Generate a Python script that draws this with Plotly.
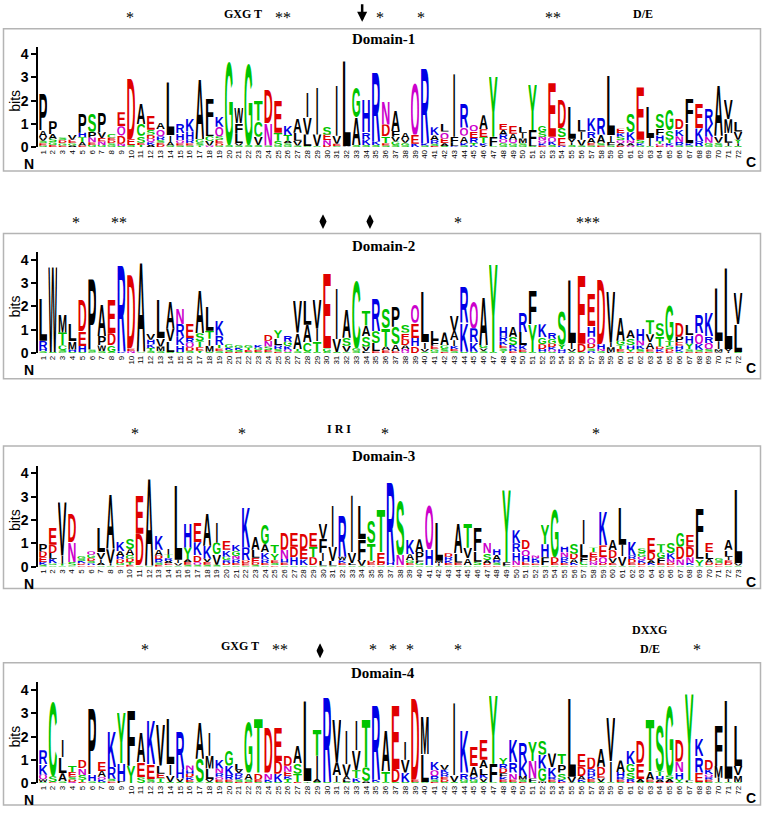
import base64
import plotly.graph_objects as go

# ---------------- data: per-position letter stacks (letter + height in bits) ----------------
DOMAIN_1 = [
    "G.08 E.1 S.1 V.15 A.3 P1.6", "E.1 G.12 S.15 A.2 P.55", "E.08 G.1 D.12 S.12", "A.08 G.1 E.15 V.2",
    "E.08 A.15 T.2 H.2 P.85", "G.1 E.12 N.2 P.25 S.8", "G.1 N.15 E.15 V.25 P.85", "G.08 S.1 D.12 E.12 C.15",
    "S.06 N.1 D.35 Q.4 E.6", "S.1 E.25 D2.7", "T.1 E.1 S.3 C.5 A.9", "A.1 K.12 Q.15 D.18 S.2 E.6",
    "D.1 E.1 S.12 R.15 Q.3 A.3", "S.08 A.15 I.3 L2.35", "S.08 E.1 Q.12 H.3 R.4", "S.08 E.1 R.15 H.35 K.55",
    "T.08 S.12 G.15 A2.6", "Q.08 V.2 C.2 L.35 F1.3", "G.08 E.15 S.15 D.1 Q.4 K.45", "S.1 G3.65",
    "S.08 V.1 L.4 F.45 W.7", "S.1 G3.55", "S.1 V.35 C.7 T.9", "S.08 N.95 D1.5",
    "G.08 S.2 T.35 E1.4", "G.08 S.1 A.1 T.25 K.4", "S.08 V.2 L.35 A.6", "S.05 L.5 V.75 I1.1",
    "S.05 V.5 I2.1", "D.1 N.2 E.25 S.35", "S.05 E.1 V.35 I2.2", "A.05 L3.75",
    "S.1 A1.2 G1.3", "S.1 K.25 R.3 H1.4", "S.1 K.15 R3.1", "E.1 S.08 T.3 D.5 N1.0",
    "S.1 G.15 V.2 F.25 A.9", "S.08 G.12 V.15 A.3", "K.15 E.4 Q2.3", "S.08 K.1 R3.3",
    "E.06 S.1 R.15 A.2 K.35", "S.06 A.12 E.2 Q.3 L.35", "K.05 L.15 F.25 I2.8", "S.08 K.12 A.3 Q.35 R1.1",
    "K.08 T.12 R.2 E.3 Q.3", "V.08 K.1 T.25 E.35 A.6", "S.05 F.4 Y2.7", "S.08 G.12 Q.15 R.2 A.2 E.25",
    "S.08 G.1 Q.15 A.25 E.35", "G.08 S.1 M.2 I.25 L.3", "S.06 L.08 F.6 Y2.0", "E.08 K.1 Q.12 N.15 S.2 G.3",
    "S.1 K.15 Q.2 E2.4", "K.08 E.35 S.4 D1.25", "S.1 I.12 V.15 L1.4", "S.08 V.25 I.35 L.5",
    "S.08 E.12 A.2 R.3 K.55", "E.08 S.12 A.35 R.75", "S.08 F.15 I.3 L2.6", "D.08 A.1 Q.12 S.15 K.15 E.2",
    "Q.08 A.1 N.12 K.35 S.8", "G.08 K.1 S.15 E2.35", "S.05 I.35 L1.35", "E.08 Q.08 T.1 H.25 F.3 S.65",
    "N.08 K.1 T.15 S.4 G.9", "S.08 R.15 N.25 K.3 D.45", "S.08 K.1 L.85 F1.05", "S.06 R.2 K.55 E1.1",
    "S.08 G.12 N.25 K.55 R.7", "G.08 S.12 V.3 A2.2", "S.05 I.15 L.4 M.6 V.85", "S.06 I.12 Y.15 V.35 L.45",
]

DOMAIN_2 = [
    "S.08 H.1 R.35 L1.85", "S.05 W3.75", "G.05 S.08 C.2 T.55 M.8", "S.05 H.1 M.35 L.75",
    "S.05 H.25 E.65 D1.35", "G.05 S.1 P3.15", "S.08 W.25 P.4 A1.35", "S.05 G.3 D.5 E1.5",
    "K.05 R3.8", "N.08 E.12 D3.25", "S.03 A3.95", "S.1 T.12 K.15 H.2 V.3",
    "S.08 M.2 V.35 L1.7", "S.05 L.45 V.55 A1.2", "S.05 H.3 K.35 R.55 N.7", "S.1 D.15 Q.2 R.2 E.65",
    "Y.1 E.15 T.25 S.35 A1.9", "S.06 M.25 I.3 T.35 L1.1", "S.08 E.12 T.15 R.4 K.7", "E.05 S.08 K.1 G.15",
    "E.05 S.08 K.1 G.12", "S.05 E.08 T.1 G.12", "S.05 E.08 G.1 K.12", "G.05 E.08 S.15 N.25 D.3",
    "E.06 S.12 R.15 L.3 Y.35", "S.06 Q.08 K.15 G.2 R.3", "S.08 T.1 A.7 V1.4", "S.06 C.4 A.75 L1.1",
    "S.05 T.45 I.55 V1.3", "S.05 G.15 E3.3", "S.05 V.55 I2.2", "G.06 V.25 S.35 A1.25",
    "S.1 G.12 C2.95", "L.08 V.2 S.45 A.45 T.7", "E.08 L.35 S.5 R1.4", "E.12 A.15 T.8 S.85",
    "E.08 A.3 S.75 P.9", "Q.08 N.1 A.15 D.25 E.3 S.35", "D.3 H.35 E.65 Q.8", "S.06 V.12 I.3 L2.2",
    "S.06 G.1 E.15 F.25 L.4", "E.06 S.12 G.15 A.55", "S.08 E.1 K.12 I.25 A.4 V.7", "S.06 K1.25 R1.6",
    "S.06 K.4 R.6 Q1.15", "S.08 V.12 G.15 A2.1", "S.05 Y3.9", "Y.08 S.12 E.15 K.15 R.2 H.45",
    "E.08 R.12 K.15 S.35 A.45", "S.05 E.1 K.2 L.55 R.85", "S.05 Y1.2 F1.5", "S.06 H.12 D.2 G.3 K.55",
    "S.06 Q.08 K.12 D.15 G.2 R.3", "R.06 H.1 Y.2 S1.5", "S.06 V.12 I.25 L2.8", "S.05 D.35 E3.0",
    "R.08 S.12 D.2 Q.3 H.45 E1.4", "S.08 N.1 H.2 D2.85", "L.05 M.2 I.2 V2.25", "S.06 E.12 T.15 G.2 A1.0",
    "E.06 Y.12 H.15 S.3 A.35", "E.06 S.12 K.15 N.2 H.5", "S.06 E.1 A.3 V.35 T.6", "E.06 K.1 D.12 T.45 S.55",
    "E.06 D.1 S.15 T.2 G1.55", "S.06 K.1 H.15 E.15 P.25 D.65", "E.06 S.1 Y.25 H.35 L.45", "E.06 S.08 K.25 Q.45 R.8",
    "E.06 S.12 Q.25 R.3 K1.0", "V.06 M.1 I.35 L2.35", "I.08 V.1 L3.6", "S.05 L1.2 V1.35",
]

DOMAIN_3 = [
    "S.08 K.12 E.2 D.25 P.35", "S.06 G.08 K.2 L.25 D.35 E.75", "S.05 T.08 I.35 V2.4", "G.05 S.15 N.85 D1.25",
    "E.06 D.08 K.1 S.1 G.12", "E.06 R.08 S.1 D.12 G.15 Q.15", "S.06 A.1 I.15 V.3 L1.1", "S.05 I.1 V.6 A2.4",
    "E.06 G.1 D.15 R.15 A.2 K.4", "E.08 T.12 D.15 G.15 A.25 S.45", "S.06 D1.35 E1.7", "S.05 A3.85",
    "E.08 S.1 R.15 D.15 A.25 K.65", "S.06 E.08 A.1 R.12 T.15 I.3", "S.05 V.1 I.15 L3.3", "S.08 E.12 A.12 Y.5 H1.05",
    "S.08 Q.12 D.3 K.55 E.85", "S.08 E.12 V.15 K.55 A1.4", "S.08 V.45 G.5 I.9", "S.06 D.1 R.12 G.15 K.3 E.4",
    "S.06 E.1 R.15 N.15 G.2 K.3", "S.05 E.1 D.12 R.55 K1.75", "S.08 D.1 E.2 L.35 A.55", "S.06 E.1 R.15 K.3 A.35 G.85",
    "D.06 S.1 E.12 Y.3 T.35", "S.06 E.12 H.15 N.4 D.75", "S.06 H.35 D.45 E.65", "S.06 K.25 E.45 D.7",
    "S.06 D.35 T.45 E.65", "S.05 L.2 I.35 F.6 V.7", "S.05 L.2 V.6 I1.8", "S.06 E.1 K.12 W.15 R1.8",
    "S.06 L.1 V.45 I2.5", "S.04 V.25 F.9 L1.45", "A.06 E.1 D.1 T.75 S.95", "S.06 D.1 E.45 T1.9",
    "S.06 H.15 R3.55", "E.06 N.45 S2.4", "S.06 E.1 G.12 A.25 K.65", "S.06 G.1 F.12 P.35 A.55",
    "S.06 H.7 Q1.95", "S.04 I.1 M.12 L1.7", "S.06 E.1 K.12 R.15 D.15", "S.06 E.12 L.4 A1.3",
    "S.06 A.3 V.45 T1.1", "G.06 S.15 L.45 F1.0", "E.06 D.1 A.12 S.3 N.45", "E.06 S.12 R.12 A.2 H.25",
    "S.04 F.15 Y3.2", "E.06 N.2 H.35 R.4 K.55", "S.06 E.15 H.25 Q.3 D.4", "S.06 E.08 H.1 K.12 N.12",
    "S.06 F.35 H.55 Y.85", "S.06 E.1 D.25 G2.1", "S.06 E.1 K.1 R.15 N.2 H.25", "E.06 K.1 A.15 D.25 S.45",
    "S.06 C.15 F.2 L.55 I1.1", "S.06 N.1 Q.1 D.15 E.2 T.2", "S.06 D.1 Q.25 E.5 K1.5", "S.06 E.1 V.2 D.35 A.45",
    "S.04 V.4 I.5 L1.65", "S.06 E.12 D.15 R.15 K.65", "E.06 D.1 K.12 Q.15 G.15 S.2", "S.06 K.1 A.12 D.35 E.65",
    "S.06 E.1 F.2 G.25 T.35", "E.06 D.12 N.15 K.25 S.45", "S.06 N.25 D.55 G.65", "S.06 K.1 N.25 D.45 E.5",
    "S.04 Y.3 L.55 F1.65", "S.06 D.12 A.15 L.3 E.4", "E.06 D.08 S.12 G.12", "S.06 E.12 D.1 I.15 L.3 A.45",
    "S.05 V.1 L3.25",
]

DOMAIN_4 = [
    "S.05 W.12 Q.2 K.45 R.6", "D.05 S.25 C3.25", "S.08 A.35 L.7 I.75", "Q.06 D.1 S.12 E.2 T.3",
    "E.06 T.1 S.2 N.3 D.35", "S.08 H.3 P2.9", "S.06 K.1 Q.12 A.25 E.4", "E.08 S.12 R.5 K1.55",
    "P.1 H.75 Y2.2", "Y.75 F2.45", "S.25 E.65 A1.3", "A.06 S.12 E.65 K1.95",
    "S.06 T.15 E.2 L.35 V1.8", "S.06 V.3 I.45 L2.0", "S.06 V.15 H.4 R1.65", "S.06 E.08 K.12 D.15 H.15 N.2",
    "G.05 S1.0 A1.6", "S.06 V.12 L.45 M.55 I1.0", "S.06 E.1 Q.12 R.15 N.2 K.4", "S.06 E.1 R.2 K.4 G.7",
    "E.06 S.1 K.12 R.15 V.15 L.3", "E.06 S.1 A.3 G2.2", "S.06 E.1 D.3 T2.4", "S.06 K.1 N.3 D2.0",
    "S.06 K.35 D.55 E1.45", "S.06 T.12 K.12 E.2 N.25 D.45", "E.06 T.35 S.45 A.75", "S.03 I.06 L3.55",
    "S.06 A.12 I1.0 T1.15", "S.06 R3.75", "S.05 I.3 A.55 V1.85", "S.06 L.1 A.15 V.5 I1.5",
    "S.06 K.15 T.35 V.85 I1.3", "A.08 S.6 T2.1", "S.05 K.1 R3.3", "S.06 T.45 A1.75",
    "S.06 D.55 E2.8", "S.06 K.4 V.55 I.8", "S.06 E.1 D3.6", "S.04 L1.2 M1.65",
    "E.06 S.1 R.15 Q.25 K.35", "S.06 D.1 E.12 R.15 K.15 V.2", "S.06 V.3 I3.2", "S.06 G.1 R.3 K1.9",
    "S.06 G.1 K.12 A.45 E.85", "S.06 V.15 K.15 L.3 A.35 E.9", "S.04 F.8 Y3.0", "S.06 E.1 K.12 F.15 D.2 R.2 Y.25",
    "S.06 E.1 N.3 R.45 K.95", "E.06 S.1 M.15 K.6 R.85", "S.06 F.15 N.75 Y.85", "M.08 G.55 K.6 S.65",
    "S.06 E.1 R.12 K.4 V.6", "E.06 K.1 S.3 P.35 T.45", "S.03 V.25 L3.45", "S.06 K.1 A.15 D.4 E.55",
    "S.06 E.12 K.12 H.15 R.15 D.5", "S.06 V.15 E.15 D.35 A.8", "S.04 I.9 V1.95", "S.06 E.1 R.12 H.2 A.5",
    "E.06 R.12 S.3 G.35 K.55", "S.06 A.12 E.7 D.95", "S.06 E.1 A.35 T2.25", "E.06 A.1 H.15 T.2 S2.0",
    "E.06 A.12 S.15 G3.05", "S.06 Y.12 H.3 N.45 D.95", "S.04 F.08 Y3.8", "S.06 E.4 R.7 K.75",
    "S.06 E.1 R.1 Q.12 K.2 D.45", "S.04 I.2 M.5 F1.75", "S.04 I.15 L3.45", "S.04 M.3 V.4 L1.75",
]

TITLES = ["Domain-1", "Domain-2", "Domain-3", "Domain-4"]

# header marks above each logo: (position, label)
HEAD_1 = [(9.9, "*"), (21.4, "GXG T"), (25.5, "**"), (35.4, "*"), (39.6, "*"), (53.1, "**"), (62.3, "D/E")]
ARROW_1 = [33.6]
HEAD_2 = [(4.4, "*"), (8.8, "**"), (43.4, "*"), (56.7, "***")]
DIAMONDS_2 = [29.6, 34.4]
HEAD_3 = [(10.5, "*"), (21.6, "*"), (31.7, "I R I"), (36.4, "*"), (58.3, "*")]
HEAD_4 = [(11.4, "*"), (21.1, "GXG T"), (25.2, "**"), (34.7, "*"), (36.8, "*"), (38.5, "*"),
          (43.4, "*"), (67.8, "*")]
HEAD_4_TOP = [(63.0, "DXXG")]
HEAD_4_DE = [(63.0, "D/E")]
DIAMONDS_4 = [29.3]

# ---------------- styling ----------------
W, H = 764, 818
COLORS = {}
for ch in "GSTYC":
    COLORS[ch] = "#00c400"
for ch in "KRH":
    COLORS[ch] = "#0000e6"
for ch in "DE":
    COLORS[ch] = "#e00000"
for ch in "NQ":
    COLORS[ch] = "#cc00cc"
for ch in "AVLIPWFM":
    COLORS[ch] = "#000000"

_cache = {}


def svg_uri(svg):
    return "data:image/svg+xml;base64," + base64.b64encode(svg.encode()).decode()


def glyph(ch):
    if ch in _cache:
        return _cache[ch]
    col = COLORS.get(ch, "#000000")
    if ch == "I":
        tl = 'textLength="30" lengthAdjust="spacingAndGlyphs"'
    else:
        tl = 'textLength="98" lengthAdjust="spacingAndGlyphs"'
    svg = ('<svg xmlns="http://www.w3.org/2000/svg" width="100" height="100" viewBox="0 0 100 100" '
           'preserveAspectRatio="none">'
           f'<text x="50" y="100" text-anchor="middle" font-family="Liberation Sans, Arial, sans-serif" '
           f'font-weight="bold" font-size="139.5" fill="{col}" {tl}>{ch}</text></svg>')
    _cache[ch] = svg_uri(svg)
    return _cache[ch]


DIAMOND_SRC = svg_uri('<svg xmlns="http://www.w3.org/2000/svg" width="100" height="100" viewBox="0 0 100 100" '
                      'preserveAspectRatio="none"><polygon points="50,0 100,50 50,100 0,50" fill="#000"/></svg>')


def parse(s):
    out = []
    for it in s.split():
        out.append((it[0], float(it[1:])))
    out.sort(key=lambda t: t[1])
    return out


def py(px):
    return 1 - px / H


PANELS = [
    dict(data=DOMAIN_1, base=148, box=(28, 172), title_y=38, head_y=13),
    dict(data=DOMAIN_2, base=356, box=(235, 382), title_y=248, head_y=220),
    dict(data=DOMAIN_3, base=572, box=(450, 594), title_y=460, head_y=433),
    dict(data=DOMAIN_4, base=791, box=(669, 813), title_y=679, head_y=652),
]
PX_PER_BIT = 23.6
YMAX = 4.32
XDOM = [38.1 / W, 743.0 / W]

fig = go.Figure()
layout = dict(width=W, height=H, margin=dict(l=0, r=0, t=0, b=0), paper_bgcolor="white",
              plot_bgcolor="rgba(0,0,0,0)", showlegend=False)
images, annotations, shapes = [], [], []


def ann(**kw):
    d = dict(showarrow=False, xanchor="center", yanchor="middle")
    d.update(kw)
    annotations.append(d)


for i, p in enumerate(PANELS):
    k = "" if i == 0 else str(i + 1)
    n = len(p["data"])
    top = p["base"] - YMAX * PX_PER_BIT
    layout["xaxis" + k] = dict(domain=XDOM, range=[0.5, n + 0.5], anchor="y" + k,
                               tickvals=list(range(1, n + 1)), ticktext=[str(v) for v in range(1, n + 1)],
                               tickangle=-90, tickfont=dict(size=8, family="Liberation Sans", color="black"),
                               showgrid=False, zeroline=False, showline=False, ticks="", fixedrange=True)
    layout["yaxis" + k] = dict(domain=[py(p["base"]), py(top)], range=[0, YMAX], anchor="x" + k,
                               tickvals=[0, 1, 2, 3, 4], ticks="outside", ticklen=5, tickwidth=1.5,
                               tickcolor="black", showline=True, linecolor="black", linewidth=1.5,
                               showgrid=False, zeroline=False, fixedrange=True,
                               tickfont=dict(size=14, family="Liberation Sans", color="black", weight="bold"))
    for pos, s in enumerate(p["data"], start=1):
        base = 0.0
        for ch, h in parse(s):
            images.append(dict(source=glyph(ch), xref="x" + k, yref="y" + k, x=pos, y=base,
                               sizex=0.94, sizey=h, xanchor="center", yanchor="bottom",
                               sizing="stretch", layer="above"))
            base += h
    shapes.append(dict(type="rect", xref="paper", yref="paper", x0=3.5 / W, x1=760.5 / W,
                       y0=py(p["box"][1]), y1=py(p["box"][0]), line=dict(color="#b4b4b4", width=1.5)))
    ann(text="<b>" + TITLES[i] + "</b>", xref="paper", yref="paper", x=383 / W, y=py(p["title_y"]),
        font=dict(family="Liberation Serif", size=15, color="black"))
    ann(text="bits", xref="paper", yref="paper", x=15 / W, y=py(p["base"] - 2 * PX_PER_BIT), textangle=-90,
        font=dict(family="Liberation Sans", size=14, color="black"))
    ann(text="<b>N</b>", xref="paper", yref="paper", x=29 / W, y=py(p["base"] + 17),
        font=dict(family="Liberation Sans", size=14, color="black"))
    ann(text="<b>C</b>", xref="paper", yref="paper", x=751 / W, y=py(p["base"] + 15),
        font=dict(family="Liberation Sans", size=14, color="black"))


def head(items, panel, ypx):
    k = "" if panel == 0 else str(panel + 1)
    for x, t in items:
        star = t.strip("*") == ""
        ann(text=t if star else "<b>" + t + "</b>", xref="x" + k, yref="paper", x=x,
            y=py(ypx + (4 if star else 0)),
            font=dict(family="Liberation Serif", size=16 if star else 12, color="black"))


head(HEAD_1, 0, PANELS[0]["head_y"])
head(HEAD_2, 1, PANELS[1]["head_y"])
head(HEAD_3, 2, PANELS[2]["head_y"])
head(HEAD_4, 3, PANELS[3]["head_y"])
head(HEAD_4_TOP, 3, 636)
head(HEAD_4_DE, 3, 655)

for x in ARROW_1:
    annotations.append(dict(text="", xref="x", yref="paper", x=x, y=py(21), ax=0, ay=-19,
                            showarrow=True, arrowhead=2, arrowsize=0.8, arrowwidth=2.5, arrowcolor="black"))


def diamonds(xs, panel, ypx):
    k = "" if panel == 0 else str(panel + 1)
    for x in xs:
        images.append(dict(source=DIAMOND_SRC, xref="x" + k, yref="paper", x=x, y=py(ypx),
                           sizex=0.75, sizey=15 / H, xanchor="center", yanchor="middle",
                           sizing="stretch", layer="above"))


diamonds(DIAMONDS_2, 1, 223)
diamonds(DIAMONDS_4, 3, 657)

layout["images"] = images
layout["annotations"] = annotations
layout["shapes"] = shapes
fig.update_layout(**layout)
fig.write_html("out.html", config={"displayModeBar": False},
               post_script="document.body.style.margin='0px';document.body.style.overflow='hidden';")
